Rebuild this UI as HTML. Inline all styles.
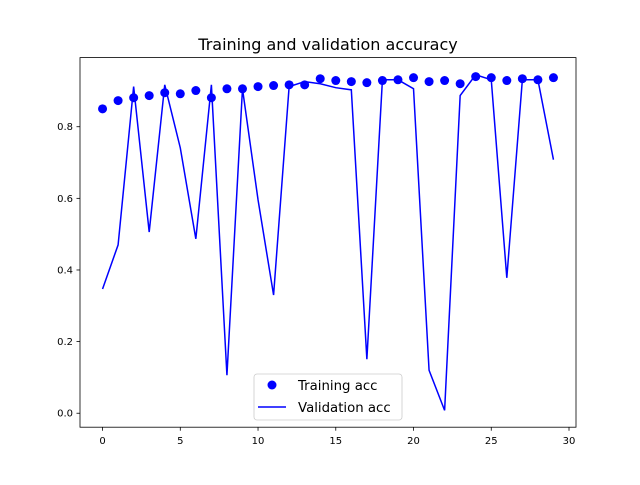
<!DOCTYPE html>
<html><head><meta charset="utf-8"><style>
body{margin:0;background:#fff;}
svg text{font-family:"DejaVu Sans","Liberation Sans",sans-serif;}
</style></head><body>
<svg id="chart" width="640" height="480" xmlns="http://www.w3.org/2000/svg">
<rect width="640" height="480" fill="#fff"/>
<text x="328" y="50" font-size="16" text-anchor="middle" fill="#000">Training and validation accuracy</text>
<g id="plot"></g>
<rect x="80" y="57.6" width="496" height="369.6" fill="none" stroke="#000" stroke-width="0.8"/>
<g id="xticks"></g><g id="yticks"></g>
<g>
<rect x="254" y="374" width="148" height="46" rx="3" fill="#fff" fill-opacity="0.8" stroke="#ccc" stroke-width="0.8"/>
<circle cx="272" cy="385" r="4.5" fill="#0000ff"/>
<text x="298" y="390" font-size="13.3">Training acc</text>
<line x1="258" y1="407" x2="286" y2="407" stroke="#0000ff" stroke-width="1.5"/>
<text x="298" y="412" font-size="13.3">Validation acc</text>
</g>
</svg>
<script>
const trainAcc=[0.850,0.873,0.881,0.887,0.895,0.892,0.901,0.881,0.906,0.906,0.912,0.915,0.917,0.917,0.934,0.929,0.926,0.923,0.929,0.931,0.937,0.926,0.929,0.920,0.940,0.937,0.929,0.934,0.931,0.937];
const valAcc=[0.347,0.470,0.912,0.506,0.917,0.741,0.487,0.917,0.106,0.906,0.596,0.330,0.912,0.926,0.920,0.909,0.903,0.151,0.931,0.931,0.906,0.120,0.008,0.887,0.945,0.931,0.378,0.931,0.931,0.708];
const xTicks=[0,5,10,15,20,25,30];
const yTicks=[0.0,0.2,0.4,0.6,0.8];
const NS="http://www.w3.org/2000/svg";
const X0=80,X1=576,Y0=427.2,Y1=57.6;
const xMin=-1.45,xMax=30.45,yMin=-0.039,yMax=0.993;
const sx=v=>X0+(v-xMin)/(xMax-xMin)*(X1-X0);
const sy=v=>Y0-(v-yMin)/(yMax-yMin)*(Y0-Y1);
function mk(tag,attrs,parent){const e=document.createElementNS(NS,tag);for(const k in attrs)e.setAttribute(k,attrs[k]);parent.appendChild(e);return e;}
const plot=document.getElementById('plot');
const pts=valAcc.map((v,i)=>sx(i)+','+sy(v)).join(' ');
const pl=mk('polyline',{points:pts,fill:'none',stroke:'#0000ff','stroke-width':1.5},plot);


trainAcc.forEach((v,i)=>{
 const c=mk('circle',{cx:sx(i),cy:sy(v),r:4.5,fill:'#0000ff'},plot);
 
 
});
const xg=document.getElementById('xticks');
xTicks.forEach(t=>{
 const l=mk('line',{x1:sx(t),x2:sx(t),y1:Y0,y2:Y0+3.5,stroke:'#000','stroke-width':0.8},xg);
 
 
 const tx=mk('text',{x:sx(t),y:Y0+17,'font-size':10,'text-anchor':'middle'},xg);
 tx.textContent=String(t);
 
 
});
const yg=document.getElementById('yticks');
yTicks.forEach(t=>{
 const l=mk('line',{x1:X0-3.5,x2:X0,y1:sy(t),y2:sy(t),stroke:'#000','stroke-width':0.8},yg);
 
 
 const tx=mk('text',{x:X0-7,y:sy(t)+3.5,'font-size':10,'text-anchor':'end'},yg);
 tx.textContent=t.toFixed(1);
 
 
});
</script>
</body></html>
